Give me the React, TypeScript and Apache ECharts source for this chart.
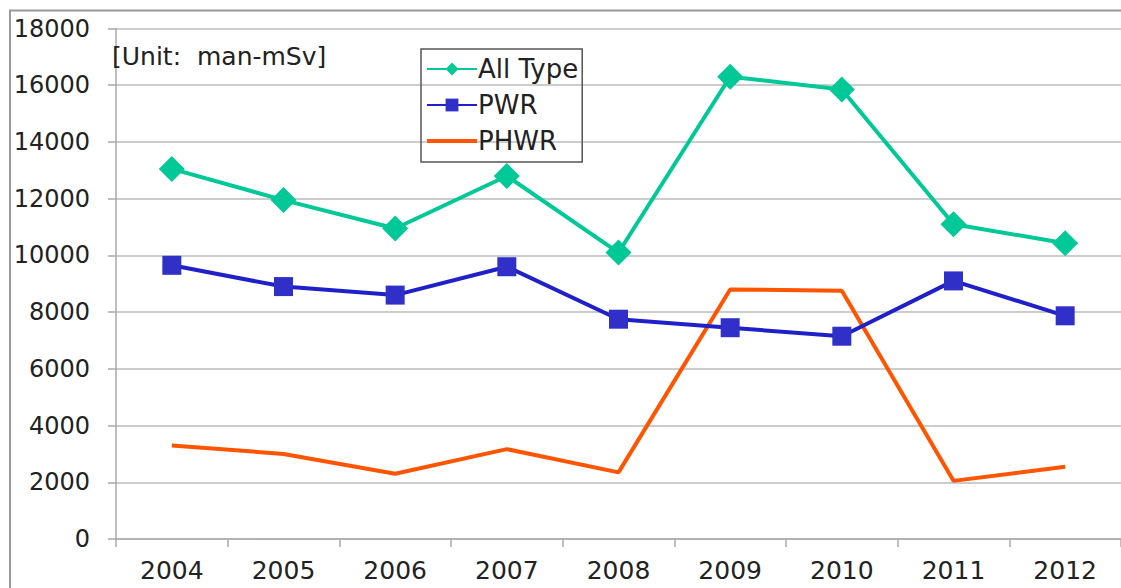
import React, { useEffect, useRef } from "react";
import * as echarts from "echarts";

const years = ["2004", "2005", "2006", "2007", "2008", "2009", "2010", "2011", "2012"];
const allType = [13050, 11950, 10950, 12800, 10100, 16300, 15850, 11100, 10430];
const pwr = [9650, 8900, 8600, 9600, 7750, 7450, 7150, 9100, 7870];
const phwr = [3300, 3000, 2300, 3170, 2350, 8800, 8750, 2050, 2550];
const unitLabel = "[Unit:  man-mSv]";

const FONT = "DejaVu Sans";

export default function App() {
  const ref = useRef<HTMLDivElement>(null);
  useEffect(() => {
    if (!ref.current) return;
    const chart = echarts.init(ref.current, null, { renderer: "svg" });
    chart.setOption({
      animation: false,
      backgroundColor: "#fff",
      textStyle: { fontFamily: FONT },
      grid: { left: 116, top: 28.5, bottom: 49, width: 1010 },
      legend: {
        orient: "vertical",
        left: 421,
        top: 49,
        padding: [7, 4, 8, 5],
        borderColor: "#555",
        borderWidth: 1.5,
        itemWidth: 50,
        itemHeight: 16,
        itemGap: 10,
        textStyle: { fontFamily: FONT, fontSize: 26, color: "#222", padding: [0, 0, 0, -4], lineHeight: 25 },
        data: [
          { name: "All Type" },
          { name: "PWR" },
          { name: "PHWR", icon: "path://M0,0H50V4H0Z" },
        ],
      },
      xAxis: {
        type: "category",
        data: years,
        boundaryGap: true,
        axisLine: { lineStyle: { color: "#aaa", width: 1.5 } },
        axisTick: { show: true, length: 8, lineStyle: { color: "#aaa", width: 1.5 } },
        axisLabel: { fontFamily: FONT, fontSize: 25, color: "#222", margin: 19 },
      },
      yAxis: {
        type: "value",
        min: 0,
        max: 18000,
        interval: 2000,
        axisLine: { show: true, lineStyle: { color: "#aaa", width: 1.5 } },
        axisTick: { show: true, length: 8, lineStyle: { color: "#aaa", width: 1.5 } },
        splitLine: { lineStyle: { color: "#bbb", width: 1.5 } },
        axisLabel: {
          fontFamily: FONT,
          fontSize: 24,
          color: "#222",
          margin: 26,
          formatter: (v: number) => String(v),
        },
      },
      graphic: [
        {
          type: "rect",
          left: 7.5,
          top: 8,
          shape: { x: 0, y: 0, width: 1200, height: 579 },
          style: { fill: "none", stroke: "#999", lineWidth: 2 },
          silent: true,
          z: 100,
        },
        {
          type: "text",
          left: 112,
          top: 44,
          style: { text: unitLabel, fontFamily: FONT, fontSize: 25, fill: "#222" },
          z: 100,
        },
      ],
      series: [
        {
          name: "All Type",
          type: "line",
          data: allType,
          symbol: "diamond",
          symbolSize: 26,
          itemStyle: { color: "#00C896" },
          lineStyle: { color: "#00C896", width: 4 },
          z: 3,
        },
        {
          name: "PWR",
          type: "line",
          data: pwr,
          symbol: "rect",
          symbolSize: 19,
          itemStyle: { color: "#3030C8" },
          lineStyle: { color: "#2020C8", width: 4 },
          z: 3,
        },
        {
          name: "PHWR",
          type: "line",
          data: phwr,
          symbol: "none",
          showSymbol: false,
          itemStyle: { color: "#FF5500" },
          lineStyle: { color: "#FF5500", width: 4 },
          z: 2,
        },
      ],
    });
    return () => chart.dispose();
  }, []);
  return (
    <div
      ref={ref}
      style={{ position: "fixed", left: 0, top: 0, width: 1121, height: 588, background: "#fff" }}
    />
  );
}
